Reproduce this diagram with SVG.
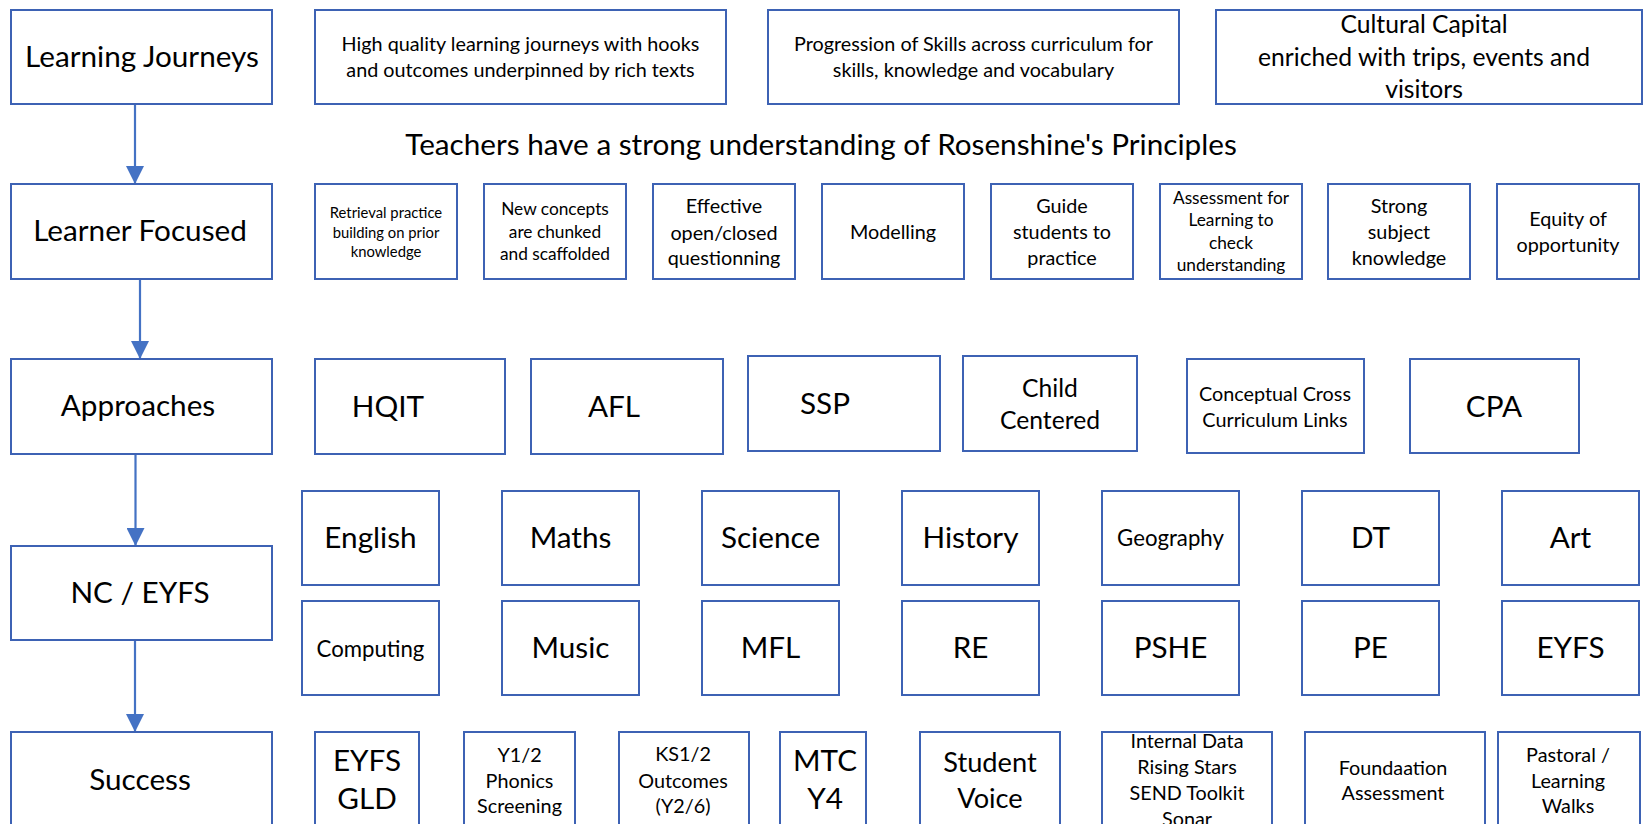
<svg xmlns="http://www.w3.org/2000/svg" width="1648" height="824" viewBox="0 0 1648 824">
<style>
.b{fill:#fff;stroke:#3D62B4;stroke-width:2}
.c{stroke:#4472C4;stroke-width:2.2;fill:none}
text{font-family:Lato,"Noto Sans",sans-serif;fill:#000;text-anchor:middle}
.s32{font-size:29.7px}.s29{font-size:27.2px}.s27{font-size:24.7px}.s24{font-size:22.2px}.s21{font-size:19.8px}.s19{font-size:17.3px}.s16{font-size:14.8px}
</style>
<defs>
<marker id="ah" markerUnits="userSpaceOnUse" markerWidth="18" markerHeight="18" refX="18" refY="9" orient="auto">
<path d="M0,0 L18,9 L0,18 z" fill="#4472C4"/>
</marker>
</defs>
<rect width="1648" height="824" fill="#fff"/>
<g id="connectors">
<line class="c" x1="135" y1="104" x2="135" y2="184" marker-end="url(#ah)"/>
<line class="c" x1="140" y1="279" x2="140" y2="359" marker-end="url(#ah)"/>
<line class="c" x1="135.5" y1="454" x2="135.5" y2="546" marker-end="url(#ah)"/>
<line class="c" x1="135" y1="640" x2="135" y2="732" marker-end="url(#ah)"/>
</g>
<g id="learning-journeys"><rect class="b" x="11" y="10" width="261" height="94"/><text class="s32" x="142" y="67">Learning Journeys</text></g>
<g id="high-quality"><rect class="b" x="315" y="10" width="411" height="94"/><text class="s21" x="520.5" y="51">High quality learning journeys with hooks</text><text class="s21" x="520.5" y="77">and outcomes underpinned by rich texts</text></g>
<g id="progression"><rect class="b" x="768" y="10" width="411" height="94"/><text class="s21" x="973.5" y="51">Progression of Skills across curriculum for</text><text class="s21" x="973.5" y="77">skills, knowledge and vocabulary</text></g>
<g id="cultural-capital"><rect class="b" x="1216" y="10" width="426" height="94"/><text class="s27" x="1424" y="33">Cultural Capital</text><text class="s27" x="1424" y="65.5">enriched with trips, events and</text><text class="s27" x="1424" y="98">visitors</text></g>
<g id="rosenshine"><text class="s32" x="821" y="155">Teachers have a strong understanding of Rosenshine's Principles</text></g>

<g id="learner-focused"><rect class="b" x="11" y="184" width="261" height="95"/><text class="s32" x="140" y="241">Learner Focused</text></g>
<g id="retrieval"><rect class="b" x="315" y="184" width="142" height="95"/><text class="s16" x="386" y="218">Retrieval practice</text><text class="s16" x="386" y="237.5">building on prior</text><text class="s16" x="386" y="257">knowledge</text></g>
<g id="new-concepts"><rect class="b" x="484" y="184" width="142" height="95"/><text class="s19" x="555" y="215">New concepts</text><text class="s19" x="555" y="237.5">are chunked</text><text class="s19" x="555" y="260">and scaffolded</text></g>
<g id="effective"><rect class="b" x="653" y="184" width="142" height="95"/><text class="s21" x="724" y="213">Effective</text><text class="s21" x="724" y="239.5">open/closed</text><text class="s21" x="724" y="265">questionning</text></g>
<g id="modelling"><rect class="b" x="822" y="184" width="142" height="95"/><text class="s21" x="893" y="238.5">Modelling</text></g>
<g id="guide"><rect class="b" x="991" y="184" width="142" height="95"/><text class="s21" x="1062" y="212.5">Guide</text><text class="s21" x="1062" y="238.5">students to</text><text class="s21" x="1062" y="264.5">practice</text></g>
<g id="assessment-for-learning"><rect class="b" x="1160" y="184" width="142" height="95"/><text class="s19" x="1231" y="204">Assessment for</text><text class="s19" x="1231" y="226.3">Learning to</text><text class="s19" x="1231" y="248.6">check</text><text class="s19" x="1231" y="271">understanding</text></g>
<g id="strong-subject"><rect class="b" x="1328" y="184" width="142" height="95"/><text class="s21" x="1399" y="212.5">Strong</text><text class="s21" x="1399" y="238.5">subject</text><text class="s21" x="1399" y="264.5">knowledge</text></g>
<g id="equity"><rect class="b" x="1497" y="184" width="142" height="95"/><text class="s21" x="1568" y="226">Equity of</text><text class="s21" x="1568" y="251.5">opportunity</text></g>

<g id="approaches"><rect class="b" x="11" y="359" width="261" height="95"/><text class="s32" x="138" y="416">Approaches</text></g>
<g id="hqit"><rect class="b" x="315" y="359" width="190" height="95"/><text class="s32" x="388" y="417">HQIT</text></g>
<g id="afl"><rect class="b" x="531" y="359" width="192" height="95"/><text class="s32" x="614" y="417">AFL</text></g>
<g id="ssp"><rect class="b" x="748" y="356" width="192" height="95"/><text class="s32" x="825" y="414">SSP</text></g>
<g id="child-centered"><rect class="b" x="963" y="356" width="174" height="95"/><text class="s27" x="1050" y="397">Child</text><text class="s27" x="1050" y="428.5">Centered</text></g>
<g id="conceptual"><rect class="b" x="1187" y="359" width="177" height="94"/><text class="s21" x="1275" y="401">Conceptual Cross</text><text class="s21" x="1275" y="427">Curriculum Links</text></g>
<g id="cpa"><rect class="b" x="1410" y="359" width="169" height="94"/><text class="s32" x="1494" y="417">CPA</text></g>

<g id="nc-eyfs"><rect class="b" x="11" y="546" width="261" height="94"/><text class="s32" x="140" y="603">NC / EYFS</text></g>
<g id="english"><rect class="b" x="302" y="491" width="137" height="94"/><text class="s32" x="370.5" y="548">English</text></g>
<g id="maths"><rect class="b" x="502" y="491" width="137" height="94"/><text class="s32" x="570.5" y="548">Maths</text></g>
<g id="science"><rect class="b" x="702" y="491" width="137" height="94"/><text class="s32" x="770.5" y="548">Science</text></g>
<g id="history"><rect class="b" x="902" y="491" width="137" height="94"/><text class="s32" x="970.5" y="548">History</text></g>
<g id="geography"><rect class="b" x="1102" y="491" width="137" height="94"/><text class="s24" x="1170.5" y="546">Geography</text></g>
<g id="dt"><rect class="b" x="1302" y="491" width="137" height="94"/><text class="s32" x="1370.5" y="548">DT</text></g>
<g id="art"><rect class="b" x="1502" y="491" width="137" height="94"/><text class="s32" x="1570.5" y="548">Art</text></g>
<g id="computing"><rect class="b" x="302" y="601" width="137" height="94"/><text class="s24" x="370.5" y="657">Computing</text></g>
<g id="music"><rect class="b" x="502" y="601" width="137" height="94"/><text class="s32" x="570.5" y="658">Music</text></g>
<g id="mfl"><rect class="b" x="702" y="601" width="137" height="94"/><text class="s32" x="770.5" y="658">MFL</text></g>
<g id="re"><rect class="b" x="902" y="601" width="137" height="94"/><text class="s32" x="970.5" y="658">RE</text></g>
<g id="pshe"><rect class="b" x="1102" y="601" width="137" height="94"/><text class="s32" x="1170.5" y="658">PSHE</text></g>
<g id="pe"><rect class="b" x="1302" y="601" width="137" height="94"/><text class="s32" x="1370.5" y="658">PE</text></g>
<g id="eyfs"><rect class="b" x="1502" y="601" width="137" height="94"/><text class="s32" x="1570.5" y="658">EYFS</text></g>

<g id="success"><rect class="b" x="11" y="732" width="261" height="100"/><text class="s32" x="140" y="790">Success</text></g>
<g id="eyfs-gld"><rect class="b" x="315" y="732" width="104" height="100"/><text class="s32" x="367" y="771">EYFS</text><text class="s32" x="367" y="809">GLD</text></g>
<g id="phonics"><rect class="b" x="464" y="732" width="111" height="100"/><text class="s21" x="519.5" y="762">Y1/2</text><text class="s21" x="519.5" y="788">Phonics</text><text class="s21" x="519.5" y="812.5">Screening</text></g>
<g id="ks-outcomes"><rect class="b" x="619" y="732" width="130" height="100"/><text class="s21" x="683" y="761">KS1/2</text><text class="s21" x="683" y="788">Outcomes</text><text class="s21" x="683" y="812.5">(Y2/6)</text></g>
<g id="mtc"><rect class="b" x="780" y="732" width="86" height="100"/><text class="s32" x="825" y="771">MTC</text><text class="s32" x="825" y="809">Y4</text></g>
<g id="student-voice"><rect class="b" x="920" y="732" width="140" height="100"/><text class="s29" x="990" y="772">Student</text><text class="s29" x="990" y="807.5">Voice</text></g>
<g id="internal-data"><rect class="b" x="1102" y="732" width="170" height="100"/><text class="s21" x="1187" y="748">Internal Data</text><text class="s21" x="1187" y="774">Rising Stars</text><text class="s21" x="1187" y="800">SEND Toolkit</text><text class="s21" x="1187" y="826">Sonar</text></g>
<g id="foundation-assessment"><rect class="b" x="1305" y="732" width="180" height="100"/><text class="s21" x="1393" y="775">Foundaation</text><text class="s21" x="1393" y="800">Assessment</text></g>
<g id="pastoral"><rect class="b" x="1498" y="732" width="142" height="100"/><text class="s21" x="1568" y="762">Pastoral /</text><text class="s21" x="1568" y="788">Learning</text><text class="s21" x="1568" y="812.5">Walks</text></g>
</svg>
